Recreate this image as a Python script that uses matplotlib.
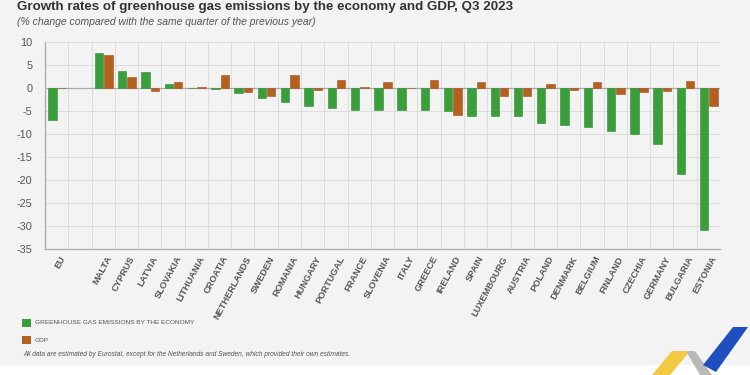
import matplotlib
matplotlib.use("Agg")
import matplotlib.pyplot as plt
import matplotlib.font_manager as fm
from matplotlib.patches import Polygon, Rectangle
import numpy as np

# data (% change, Q3 2023 vs Q3 2022)
countries = ["EU", "", "MALTA", "CYPRUS", "LATVIA", "SLOVAKIA", "LITHUANIA",
             "CROATIA", "NETHERLANDS", "SWEDEN", "ROMANIA", "HUNGARY",
             "PORTUGAL", "FRANCE", "SLOVENIA", "ITALY", "GREECE", "IRELAND",
             "SPAIN", "LUXEMBOURG", "AUSTRIA", "POLAND", "DENMARK", "BELGIUM",
             "FINLAND", "CZECHIA", "GERMANY", "BULGARIA", "ESTONIA"]
ghg = [-7.0, np.nan, 7.7, 3.7, 3.4, 0.9, 0.05, -0.2, -1.0, -2.1, -3.0, -4.0,
       -4.4, -4.7, -4.7, -4.7, -4.7, -5.0, -6.0, -6.0, -6.0, -7.7, -8.0,
       -8.5, -9.3, -10.0, -12.2, -18.7, -30.8]
gdp = [-0.1, np.nan, 7.1, 2.5, -0.6, 1.2, 0.3, 2.8, -0.8, -1.7, 2.8, -0.4,
       1.7, 0.2, 1.2, 0.0, 1.8, -5.8, 1.4, -1.7, -1.7, 0.8, -0.4, 1.4,
       -1.4, -0.9, -0.7, 1.5, -4.0]
yticks = [10, 5, 0, -5, -10, -15, -20, -25, -30, -35]

green = "#3a9f3a"
orange = "#b4601e"
bg = "#f3f3f3"
txt = "#555555"

# the source uses a condensed font; take a narrow one if there is one
names = {f.name for f in fm.fontManager.ttflist}
if "Liberation Sans Narrow" in names:
    fam, k = "Liberation Sans Narrow", 1.0
else:
    fam, k = "Liberation Sans", 0.85
plt.rcParams["font.family"] = [fam, "DejaVu Sans"]

fig = plt.figure(figsize=(7.5, 3.75), dpi=100)
fig.patch.set_facecolor(bg)
# white strip at the very bottom
fig.add_artist(Rectangle((0, 0), 1, 10 / 375, transform=fig.transFigure,
                         facecolor="white", edgecolor="none"))

ax = fig.add_axes([45 / 750, 1 - 249 / 375, 675 / 750, 207 / 375])
ax.set_facecolor(bg)
x = np.arange(len(countries))
w = 0.36
ax.bar(x - 0.18, ghg, w, color=green, edgecolor="#2f8a2f", linewidth=0.4, zorder=3)
ax.bar(x + 0.22, gdp, w, color=orange, edgecolor="#a0521a", linewidth=0.4, zorder=3)

ax.set_xlim(-0.5, len(countries) - 0.5)
ax.set_ylim(-35, 10)
ax.set_yticks(yticks)
ax.set_yticklabels([str(v) if v >= 0 else "-" + str(-v) for v in yticks])
ax.set_xticks(x + 0.1)
ax.set_xticklabels(countries, rotation=62, ha="right", va="top",
                   rotation_mode="anchor", fontsize=7.9 * k, fontweight="bold", color=txt)
ax.tick_params(axis="x", length=0, pad=4)
ax.tick_params(axis="y", length=0, labelsize=9.2 * k, labelcolor=txt, pad=9)

# grid: horizontal every 5, vertical at slot borders
for v in yticks:
    ax.axhline(v, color="#dddddd", lw=0.7, zorder=1)
for b in np.arange(-0.5, len(countries), 1.0):
    ax.axvline(b, color="#dddddd", lw=0.7, zorder=1)
ax.axhline(0, color="#aaaaaa", lw=0.9, zorder=2)
for s in ["top", "right"]:
    ax.spines[s].set_visible(False)
for s in ["left", "bottom"]:
    ax.spines[s].set_color("#aaaaaa")
    ax.spines[s].set_linewidth(0.9)

# title and subtitle
fig.text(17 / 750, 1 - 7 / 375, "Growth rates of greenhouse gas emissions by the economy and GDP, Q3 2023",
         fontsize=11.3 * k, fontweight="bold", color="#333333", va="center")
fig.text(17 / 750, 1 - 22 / 375, "(% change compared with the same quarter of the previous year)",
         fontsize=8.8 * k, style="italic", color=txt, va="center")

# legend
for yy, c, lab in [(323, green, "GREENHOUSE GAS EMISSIONS BY THE ECONOMY"), (340, orange, "GDP")]:
    fig.add_artist(Rectangle((22 / 750, 1 - (yy + 4) / 375), 9 / 750, 8 / 375,
                             transform=fig.transFigure, facecolor=c, edgecolor="none"))
    fig.text(35 / 750, 1 - yy / 375, lab, fontsize=5.5 * k, color=txt, va="center")
fig.text(23 / 750, 1 - 354 / 375,
         "All data are estimated by Eurostat, except for the Netherlands and Sweden, which provided their own estimates.",
         fontsize=5.6 * k, style="italic", color=txt, va="center")

# decorative logo, bottom right
def px(pts):
    return [(a / 750, 1 - b / 375) for a, b in pts]
fig.add_artist(Polygon(px([(652, 375), (672, 351), (690, 351), (670, 375)]),
                       transform=fig.transFigure, facecolor="#f3c843", edgecolor="none"))
fig.add_artist(Polygon(px([(686, 351), (695, 351), (712, 375), (700, 375)]),
                       transform=fig.transFigure, facecolor="#b9b9b9", edgecolor="none"))
fig.add_artist(Polygon(px([(703, 365), (733, 327), (748, 327), (716, 372)]),
                       transform=fig.transFigure, facecolor="#1f4fbf", edgecolor="none"))

fig.savefig("out.png", dpi=100, facecolor=fig.get_facecolor())
